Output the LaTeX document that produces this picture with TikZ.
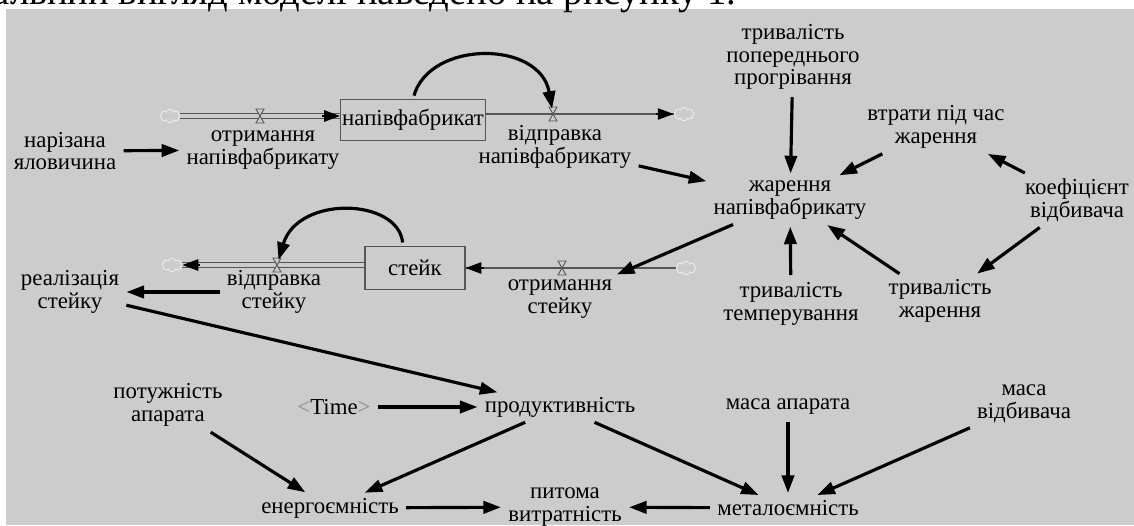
\documentclass[tikz,border=0pt]{standalone}
\usepackage{fontspec}
\setmainfont{Liberation Serif}
\usepackage{tikz}
\usetikzlibrary{arrows.meta,shapes.symbols,calc}

\definecolor{bggray}{RGB}{204,204,204}
\definecolor{pipegray}{RGB}{85,85,85}

\begin{document}
\begin{tikzpicture}[x=0.02cm,y=-0.02cm,
  lbl/.style={align=center,inner sep=2pt,font=\fontsize{13}{13}\selectfont},
  stock/.style={draw=pipegray,line width=0.6pt,inner sep=1pt,font=\fontsize{13}{13}\selectfont},
  lnk/.style={-{Triangle[length=10pt,width=7pt]},line width=1.8pt,shorten <=2pt,shorten >=2pt},
  pipe/.style={draw=pipegray,double=bggray,double distance=1.8pt,line width=0.6pt},
  pipeone/.style={draw=pipegray,line width=0.7pt},
  flowtip/.style={-{Triangle[length=9pt,width=6.5pt]},line width=0.7pt},
  cloudy/.style={cloud,cloud puffs=8,draw=white!85!gray,line width=0.5pt,inner sep=0pt,minimum width=0.4cm,minimum height=0.27cm}
]

  % Page and grey canvas
  \useasboundingbox (0,0) rectangle (1134,525);
  \fill[white] (0,0) rectangle (1134,525);
  \fill[bggray] (6,9) rectangle (1134,525);

  % Cut-off line of the page text above the figure
  \node[anchor=base east,inner sep=0pt,font=\fontsize{22}{22}\selectfont] (caption) at (737,4)
    {Загальний вигляд моделі наведено на рисунку 1.};

  % Stocks
  \node[stock,minimum width=2.86cm,minimum height=0.82cm] (napiv) at (413,120) {напівфабрикат};
  \node[stock,minimum width=2cm,minimum height=0.86cm] (steik) at (415,268) {стейк};

  % Clouds and valves
  \node[cloudy] (c1) at (170,116) {};
  \node[cloudy] (c2) at (684,114) {};
  \node[cloudy] (c3) at (172,265) {};
  \node[cloudy] (c4) at (686,268) {};
  \coordinate (v1) at (260,116);
  \coordinate (v2) at (553,114);
  \coordinate (v3) at (277,265);
  \coordinate (v4) at (562,268);

  % Flow pipes
  \draw[pipe] (c1.east) -- (c1.east -| napiv.west);
  \draw[flowtip] ($(c1.east -| napiv.west)+(-18,0)$) -- (c1.east -| napiv.west);
  \draw[pipeone] (napiv.east |- c2.west) -- (c2.west);
  \draw[flowtip] ($(c2.west)+(-18,0)$) -- (c2.west);
  \draw[pipe] (steik.west |- c3.east) -- (c3.east);
  \draw[flowtip] ($(c3.east)+(18,0)$) -- (c3.east);
  \draw[pipeone] (c4.west) -- (c4.west -| steik.east);
  \draw[flowtip] ($(c4.west -| steik.east)+(18,0)$) -- (c4.west -| steik.east);

  \foreach \v in {v1,v2,v3,v4}{
    \draw[pipegray,fill=bggray,line width=0.5pt]
      ($(\v)+(-4,-7)$) -- ++(8,0) -- ($(\v)+(-4,7)$) -- ++(8,0) -- cycle;
  }

  % Variables
  \node[lbl] (nariz)   at (65,151)   {нарізана\\яловичина};
  \node[lbl] (otrNap)  at (263,150)  {отримання\\напівфабрикату};
  \node[lbl] (vidNap)  at (555,147)  {відправка\\напівфабрикату};
  \node[lbl] (trPop)   at (793,57)   {тривалість\\попереднього\\прогрівання};
  \node[lbl] (zhar)    at (790,200)  {жарення\\напівфабрикату};
  \node[lbl] (vtraty)  at (936,127)  {втрати під час\\жарення};
  \node[lbl] (koef)    at (1077,200) {коефіцієнт\\відбивача};
  \node[lbl] (trTemp)  at (791,304)  {тривалість\\темперування};
  \node[lbl] (trZhar)  at (940,301)  {тривалість\\жарення};
  \node[lbl] (vidSt)   at (274,292)  {відправка\\стейку};
  \node[lbl] (real)    at (70,292)   {реалізація\\стейку};
  \node[lbl] (otrSt)   at (560,299)  {отримання\\стейку};
  \node[lbl] (potuzh)  at (168,405)  {потужність\\апарата};
  \node[lbl] (time)    at (334,407)  {\textcolor{black!45}{<}Time\textcolor{black!45}{>}};
  \node[lbl] (prod)    at (560,407)  {продуктивність};
  \node[lbl] (masaAp)  at (788,407)  {маса апарата};
  \node[lbl] (masaVid) at (1024,404) {маса\\відбивача};
  \node[lbl] (energ)   at (330,508)  {енергоємність};
  \node[lbl] (pytoma)  at (565,507)  {питома\\витратність};
  \node[lbl] (metal)   at (788,508)  {металоємність};

  % Links from stocks to outflows
  \draw[lnk,shorten >=3pt] (napiv.north) .. controls (430,40) and (540,40) .. (v2);
  \draw[lnk,shorten >=3pt] ($(steik.north)+(-12,0)$) .. controls (398,198) and (298,195) .. (v3);

  % Causal links
  \draw[lnk] (nariz) -- (otrNap);
  \draw[lnk] (vidNap) -- (zhar);
  \draw[lnk] (trPop) -- (zhar);
  \draw[lnk] (vtraty) -- (zhar);
  \draw[lnk] (koef) -- (vtraty);
  \draw[lnk] (trTemp) -- (zhar);
  \draw[lnk] (trZhar) -- (zhar);
  \draw[lnk] (koef) -- (trZhar);
  \draw[lnk] (zhar) -- (otrSt);
  \draw[lnk] (vidSt) -- (real);
  \draw[lnk] (real) -- (prod);
  \draw[lnk] (time) -- (prod);
  \draw[lnk] (potuzh) -- (energ);
  \draw[lnk] (prod) -- (energ);
  \draw[lnk] (energ) -- (pytoma);
  \draw[lnk] (prod) -- (metal);
  \draw[lnk] (masaAp) -- (metal);
  \draw[lnk] (masaVid) -- (metal);
  \draw[lnk] (metal) -- (pytoma);

\end{tikzpicture}
\end{document}
